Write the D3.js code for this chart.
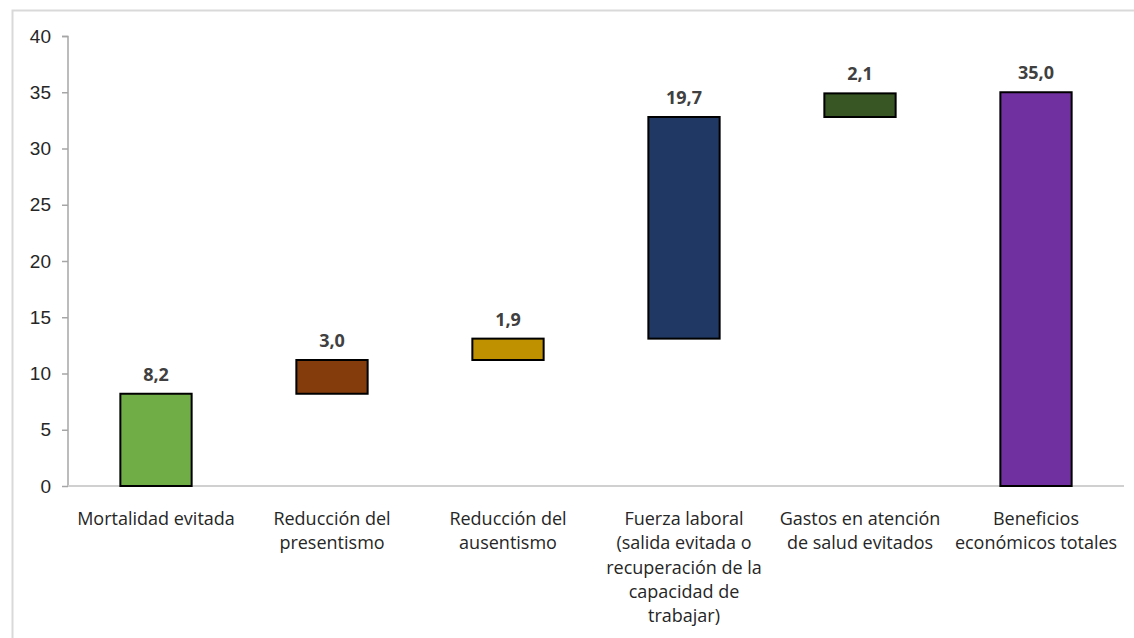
<!DOCTYPE html>
<html>
<head>
<meta charset="utf-8">
<script src="https://cdn.jsdelivr.net/npm/d3@7"></script>
<style>
  body { margin: 0; background: #fff; }
  svg { display: block; font-family: "Open Sans", "Noto Sans", sans-serif; }
</style>
</head>
<body>
<svg id="drawing_region"></svg>
<script>
// waterfall data (billions)
const categories = [
    ["Mortalidad evitada"],
    ["Reducción del", "presentismo"],
    ["Reducción del", "ausentismo"],
    ["Fuerza laboral", "(salida evitada o", "recuperación de la", "capacidad de", "trabajar)"],
    ["Gastos en atención", "de salud evitados"],
    ["Beneficios", "económicos totales"]
];
const values = [8.2, 3.0, 1.9, 19.7, 2.1, 35.0];
const isTotal = [false, false, false, false, false, true];
const colors = ["#70AD47", "#843C0C", "#BF9000", "#1F3864", "#375623", "#7030A0"];
const yTicks = [0, 5, 10, 15, 20, 25, 30, 35, 40];

const config = {
    width: 1134,
    height: 638,
    margin: {top: 36, right: 10, bottom: 152, left: 68}
};

const svg = d3.select('#drawing_region')
    .attr('width', config.width)
    .attr('height', config.height);

// outer frame
svg.append('rect')
    .attr('x', 12.5).attr('y', 10.5)
    .attr('width', 1140).attr('height', 640)
    .attr('fill', 'none')
    .attr('stroke', '#d9d9d9')
    .attr('stroke-width', 2);

const chart = svg.append('g')
    .attr('transform', `translate(${config.margin.left}, ${config.margin.top})`);

const inner_width = 1124 - config.margin.left;
const inner_height = 486 - config.margin.top;

// running start / end of each step
let running = 0;
const data = values.map((v, i) => {
    let lo, hi;
    if (isTotal[i]) { lo = 0; hi = v; }
    else { lo = running; hi = running + v; running = hi; }
    return {i: i, v: v, lo: lo, hi: hi};
});

const xscale = d3.scaleBand()
    .domain(d3.range(categories.length))
    .range([0, inner_width])
    .paddingInner(0.595)
    .paddingOuter(0.2975);

const yscale = d3.scaleLinear()
    .domain([0, 40])
    .range([inner_height, 0]);

// y axis
const yaxis = d3.axisLeft(yscale).tickValues(yTicks).tickSize(6).tickPadding(11);
const yg = chart.append('g').call(yaxis);
yg.select('.domain').attr('stroke', '#a6a6a6').attr('stroke-width', 1.5)
    .attr('d', `M-6,0.5H0V${inner_height}`);
yg.selectAll('.tick line').attr('stroke', '#a6a6a6').attr('stroke-width', 1.5);
yg.selectAll('.tick text')
    .attr('fill', '#262626')
    .style('font-size', '19px');

// x axis line
chart.append('line')
    .attr('x1', 0).attr('x2', inner_width)
    .attr('y1', inner_height).attr('y2', inner_height)
    .attr('stroke', '#d0d0d0')
    .attr('stroke-width', 2);

// bars
chart.selectAll('rect.bar')
    .data(data)
    .enter()
    .append('rect')
    .attr('class', 'bar')
    .attr('x', d => xscale(d.i))
    .attr('width', xscale.bandwidth())
    .attr('y', d => yscale(d.hi))
    .attr('height', d => yscale(d.lo) - yscale(d.hi))
    .attr('fill', d => colors[d.i])
    .attr('stroke', '#000')
    .attr('stroke-width', 2);

// value labels
chart.selectAll('text.value')
    .data(data)
    .enter()
    .append('text')
    .attr('class', 'value')
    .attr('x', d => xscale(d.i) + xscale.bandwidth() / 2)
    .attr('y', d => yscale(d.hi) - 13)
    .attr('text-anchor', 'middle')
    .attr('fill', '#404040')
    .style('font-size', '18px')
    .style('font-weight', 'bold')
    .text(d => d3.format('.1f')(d.v).replace('.', ','));

// category labels
const catg = chart.selectAll('g.cat')
    .data(categories)
    .enter()
    .append('g')
    .attr('class', 'cat')
    .attr('transform', (d, i) => `translate(${xscale(i) + xscale.bandwidth() / 2}, ${inner_height + 39})`);

catg.selectAll('text')
    .data(d => d)
    .enter()
    .append('text')
    .attr('x', 0)
    .attr('y', (d, j) => j * 24.3)
    .attr('text-anchor', 'middle')
    .attr('fill', '#262626')
    .style('font-size', '18px')
    .text(d => d);
</script>
</body>
</html>
